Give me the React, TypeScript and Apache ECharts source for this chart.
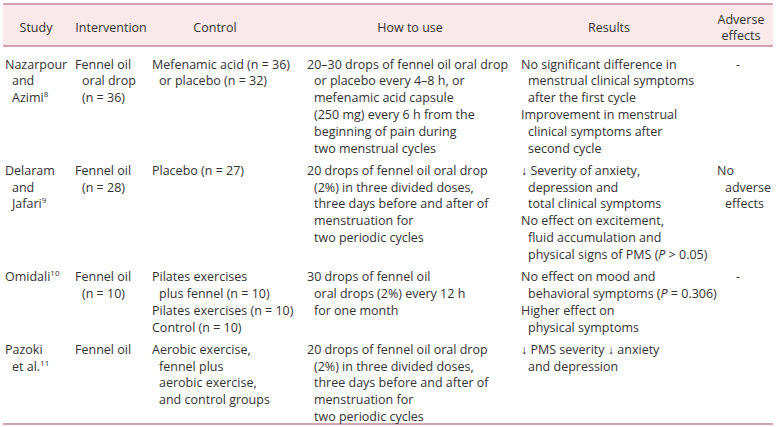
import React, { useEffect, useRef } from "react";
import * as echarts from "echarts";

// ---- table content ----
const headerLabels = ["Study", "Intervention", "Control", "How to use", "Results", "Adverse\neffects"];

// Lines beginning with two spaces are continuation lines (indented).
const studyCol: string[][] = [
  ["Nazarpour", "  and", "  Azimi{sup|8}"],
  ["Delaram", "  and", "  Jafari{sup|9}"],
  ["Omidali{sup|10}"],
  ["Pazoki", "  et al.{sup|11}"],
];
const interventionCol: string[][] = [
  ["Fennel oil", "  oral drop", "  (n = 36)"],
  ["Fennel oil", "  (n = 28)"],
  ["Fennel oil", "  (n = 10)"],
  ["Fennel oil"],
];
const controlCol: string[][] = [
  ["Mefenamic acid (n = 36)", "  or placebo (n = 32)"],
  ["Placebo (n = 27)"],
  ["Pilates exercises", "  plus fennel (n = 10)", "Pilates exercises (n = 10)", "Control (n = 10)"],
  ["Aerobic exercise,", "  fennel plus", "  aerobic exercise,", "  and control groups"],
];
const howToUseCol: string[][] = [
  [
    "20–30 drops of fennel oil oral drop",
    "  or placebo every 4–8 h, or",
    "  mefenamic acid capsule",
    "  (250 mg) every 6 h from the",
    "  beginning of pain during",
    "  two menstrual cycles",
  ],
  [
    "20 drops of fennel oil oral drop",
    "  (2%) in three divided doses,",
    "  three days before and after of",
    "  menstruation for",
    "  two periodic cycles",
  ],
  ["30 drops of fennel oil", "  oral drops (2%) every 12 h", "  for one month"],
  [
    "20 drops of fennel oil oral drop",
    "  (2%) in three divided doses,",
    "  three days before and after of",
    "  menstruation for",
    "  two periodic cycles",
  ],
];
const resultsCol: string[][] = [
  [
    "No significant difference in",
    "  menstrual clinical symptoms",
    "  after the first cycle",
    "Improvement in menstrual",
    "  clinical symptoms after",
    "  second cycle",
  ],
  [
    "↓ Severity of anxiety,",
    "  depression and",
    "  total clinical symptoms",
    "No effect on excitement,",
    "  fluid accumulation and",
    "  physical signs of PMS ({i|P} > 0.05)",
  ],
  ["No effect on mood and", "  behavioral symptoms ({i|P} = 0.306)", "Higher effect on", "  physical symptoms"],
  ["↓ PMS severity ↓ anxiety", "  and depression"],
];
const adverseCol: string[][] = [["-"], ["No", "  adverse", "  effects"], ["-"], []];

const columns = [studyCol, interventionCol, controlCol, howToUseCol, resultsCol, adverseCol];

export default function App() {
  const ref = useRef<HTMLDivElement>(null);
  useEffect(() => {
    document.body.style.margin = "0";
    const chart = echarts.init(ref.current!, null, { renderer: "svg" });

    const FONT = "Open Sans";
    const FS = 12.5;
    const COLOR = "#333333";
    const LINE = "#c48596";
    const L = 16.8;
    const GAP = 5.5;
    const INDENT = 7;
    const colX = [5, 75, 152, 307, 521, 717];
    const headerCX = [36, 111, 215, 410, 609, 741];
    const firstY = 64;

    const rich = {
      sup: { fontSize: 8, fontFamily: FONT, fill: COLOR, verticalAlign: "top", lineHeight: 16 },
      i: { fontSize: FS, fontFamily: FONT, fill: COLOR, fontStyle: "italic", lineHeight: 16 },
    };

    const els: any[] = [];
    // header band and rules
    els.push({ type: "rect", shape: { x: 3, y: 4, width: 770, height: 42 }, style: { fill: "#f9e9eb" }, silent: true });
    els.push({ type: "line", shape: { x1: 3, y1: 4, x2: 773, y2: 4 }, style: { stroke: LINE, lineWidth: 1.3 } });
    els.push({ type: "line", shape: { x1: 3, y1: 46, x2: 773, y2: 46 }, style: { stroke: LINE, lineWidth: 1.3 } });
    els.push({ type: "line", shape: { x1: 3, y1: 424, x2: 773, y2: 424 }, style: { stroke: LINE, lineWidth: 1.3 } });

    headerLabels.forEach((h, i) => {
      const parts = h.split("\n");
      parts.forEach((p, j) => {
        const y = parts.length === 1 ? 27 : 19 + j * 16;
        els.push({
          type: "text",
          x: headerCX[i],
          y,
          style: { text: p, fontFamily: FONT, fontSize: FS, fill: COLOR, align: "center", verticalAlign: "middle" },
        });
      });
    });

    // row positions
    const nRows = studyCol.length;
    const rowY: number[] = [];
    let y = firstY;
    for (let r = 0; r < nRows; r++) {
      rowY.push(y);
      const maxLines = Math.max(...columns.map((c) => c[r].length));
      y += maxLines * L + GAP;
    }

    columns.forEach((col, ci) => {
      col.forEach((cell, r) => {
        cell.forEach((line, li) => {
          const indent = line.startsWith("  ");
          const txt = indent ? line.slice(2) : line;
          const isDash = txt === "-";
          els.push({
            type: "text",
            x: isDash ? 738 : colX[ci] + (indent ? (ci === 5 ? 8 : INDENT) : 0),
            y: rowY[r] + li * L,
            style: {
              text: txt,
              fontFamily: FONT,
              fontSize: FS,
              fill: COLOR,
              align: isDash ? "center" : "left",
              verticalAlign: "middle",
              rich,
            },
          });
        });
      });
    });

    chart.setOption({ animation: false, graphic: { elements: els } });
    return () => chart.dispose();
  }, []);
  return <div ref={ref} style={{ width: 777, height: 427, background: "#fff" }} />;
}
